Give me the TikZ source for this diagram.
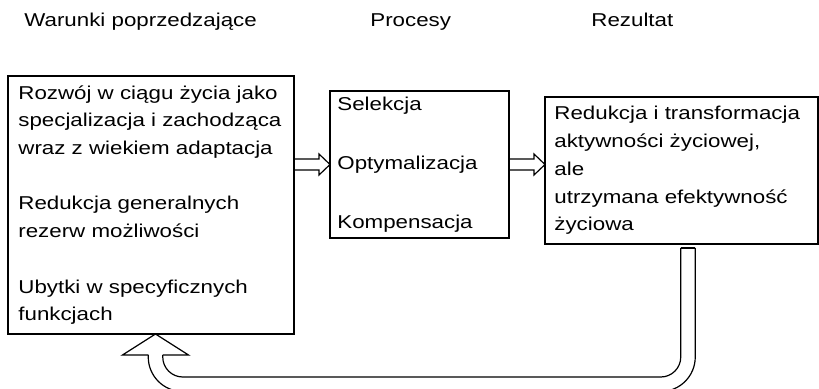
\documentclass[tikz,border=0pt]{standalone}
\usepackage{fontspec}
\setmainfont{Liberation Sans}[FakeStretch=1.2]
\usetikzlibrary{positioning}
\tikzset{
  box/.style={draw=black,line width=0.65pt,rectangle,inner sep=0pt,outer sep=0pt},
  txt/.style={align=left,inner sep=0pt,font=\fontsize{9.3pt}{13.85pt}\selectfont},
  outline/.style={draw=black,line width=0.6pt,line join=miter}
}
\begin{document}
\begin{tikzpicture}[x=0.5pt,y=-0.5pt]
\useasboundingbox (0,0) rectangle (819,389);
% headings
\node[txt,anchor=base west] (hcond) at (24,27) {Warunki poprzedzające};
\node[txt,anchor=base west] (hproc) at (370,27) {Procesy};
\node[txt,anchor=base west] (hres) at (591,27) {Rezultat};
% boxes
\node[box,minimum width=143pt,minimum height=129pt] (cond) at (151,205) {};
\node[box,minimum width=89.5pt,minimum height=73.5pt] (proc) at (419.5,164.5) {};
\node[box,minimum width=136.5pt,minimum height=73.5pt] (res) at (681.5,170.5) {};
\node[txt,right=5pt of cond.west] (condtxt) {Rozwój w ciągu życia jako\\ specjalizacja i zachodząca\\ wraz z wiekiem adaptacja\\[13.85pt]
  Redukcja generalnych\\ rezerw możliwości\\[13.85pt]
  Ubytki w specyficznych\\ funkcjach};
\node[txt,right=3.5pt of proc.west] (proctxt) {Selekcja\\[15.5pt] Optymalizacja\\[15.5pt] Kompensacja};
\node[txt,right=4.5pt of res.west] (restxt) {Redukcja i transformacja\\ aktywności życiowej,\\ ale\\ utrzymana efektywność\\ życiowa};
% hollow arrows
\coordinate (a1) at (cond.east |- proc.west);
\coordinate (a2) at (res.west |- proc.east);
\foreach \s/\t in {a1/proc.west,proc.east/a2}
  \draw[outline] ([shift={(0,-5.5)}]\s) -- ([shift={(-11,-5.5)}]\t) -- ([shift={(-11,-10.5)}]\t) -- (\t)
    -- ([shift={(-11,10.5)}]\t) -- ([shift={(-11,5.5)}]\t) -- ([shift={(0,5.5)}]\s);
% feedback arrow
\coordinate (tip) at ([xshift=2.25pt]cond.south);
\coordinate (root) at ([xshift=3.25pt]res.south);
\draw[outline,rounded corners=10pt] ([shift={(7.25,21)}]tip) -- ([shift={(7.25,43)}]tip)
  -- ([shift={(-7.25,133)}]root) -- ([shift={(-7.25,4)}]root);
\draw[outline] ([shift={(-7.25,4)}]root) -- ([shift={(7.25,4)}]root);
\draw[outline,rounded corners=17.25pt] ([shift={(7.25,4)}]root) -- ([shift={(7.25,147.5)}]root)
  -- ([shift={(-7.25,57.5)}]tip) -- ([shift={(-7.25,21)}]tip);
\draw[outline] ([shift={(-7.25,21)}]tip) -- ([shift={(-33,21)}]tip) -- (tip)
  -- ([shift={(33,21)}]tip) -- ([shift={(7.25,21)}]tip);
\end{tikzpicture}
\end{document}
